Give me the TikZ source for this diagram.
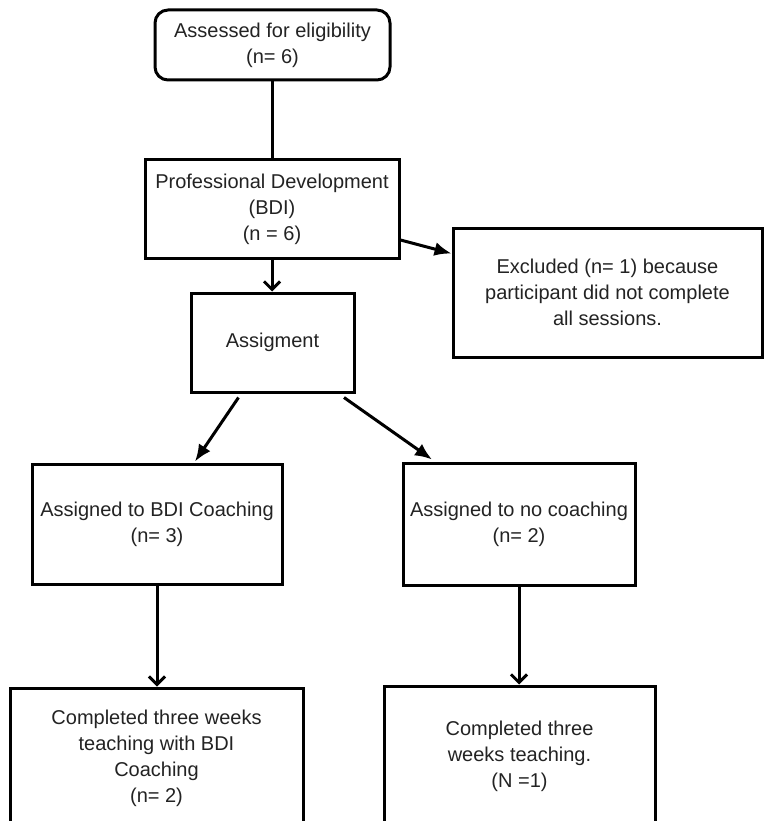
\documentclass[tikz,border=0pt]{standalone}
\usepackage{fontspec}
\setmainfont{Liberation Sans}
\usetikzlibrary{arrows.meta}
\definecolor{txt}{RGB}{35,35,35}
\begin{document}
\begin{tikzpicture}[x=1pt,y=-1pt,
  box/.style={draw=black, line width=3pt, inner sep=0pt, align=center,
    font=\fontsize{20}{26}\selectfont, text=txt},
  link/.style={draw=black, line width=3pt},
  fillarrow/.style={link, -{Latex[length=17pt,width=14pt]}},
  openarrow/.style={link, -{Straight Barb[length=8pt,width=16pt,line width=3pt]}}]
\fill[white] (0,0) rectangle (775,821);
\useasboundingbox (0,0) rectangle (775,821);

\node[box, rounded corners=13pt, minimum width=235pt, minimum height=70pt] (elig) at (272.5,45) {Assessed for eligibility\\(n= 6)};
\node[box, minimum width=254pt, minimum height=98pt] (pd) at (272,209) {Professional Development\\(BDI)\\(n = 6)};
\node[box, minimum width=309pt, minimum height=129pt] (excl) at (607.5,292.5) {Excluded (n= 1) because\\participant did not complete\\all sessions.};
\node[box, minimum width=163pt, minimum height=99pt] (asg) at (272.5,342.5) {Assigment};
\node[box, minimum width=250pt, minimum height=120pt] (bdi) at (157,524) {Assigned to BDI Coaching\\(n= 3)};
\node[box, minimum width=232pt, minimum height=122pt] (noc) at (519,524) {Assigned to no coaching\\(n= 2)};
\node[box, minimum width=293pt, minimum height=140pt] (cl) at (156.5,758) {Completed three weeks\\teaching with BDI\\Coaching\\(n= 2)};
\node[box, minimum width=271pt, minimum height=140pt] (cr) at (519.5,756) {Completed three\\weeks teaching.\\(N =1)};

\draw[link] (elig.south) -- (elig.south |- pd.north);
\draw[openarrow] (pd.south) -- (pd.south |- asg.north);
\draw[fillarrow] ([yshift=-31pt]pd.east) -- ([yshift=39pt]excl.west);
\draw[fillarrow] ([xshift=-34pt,yshift=-4pt]asg.south) -- ([xshift=38pt,yshift=1pt]bdi.north);
\draw[fillarrow] ([xshift=71.5pt,yshift=-4pt]asg.south) -- ([xshift=-87pt,yshift=2pt]noc.north);
\draw[openarrow] (bdi.south) -- (bdi.south |- cl.north);
\draw[openarrow] (noc.south) -- (noc.south |- cr.north);
\end{tikzpicture}
\end{document}
